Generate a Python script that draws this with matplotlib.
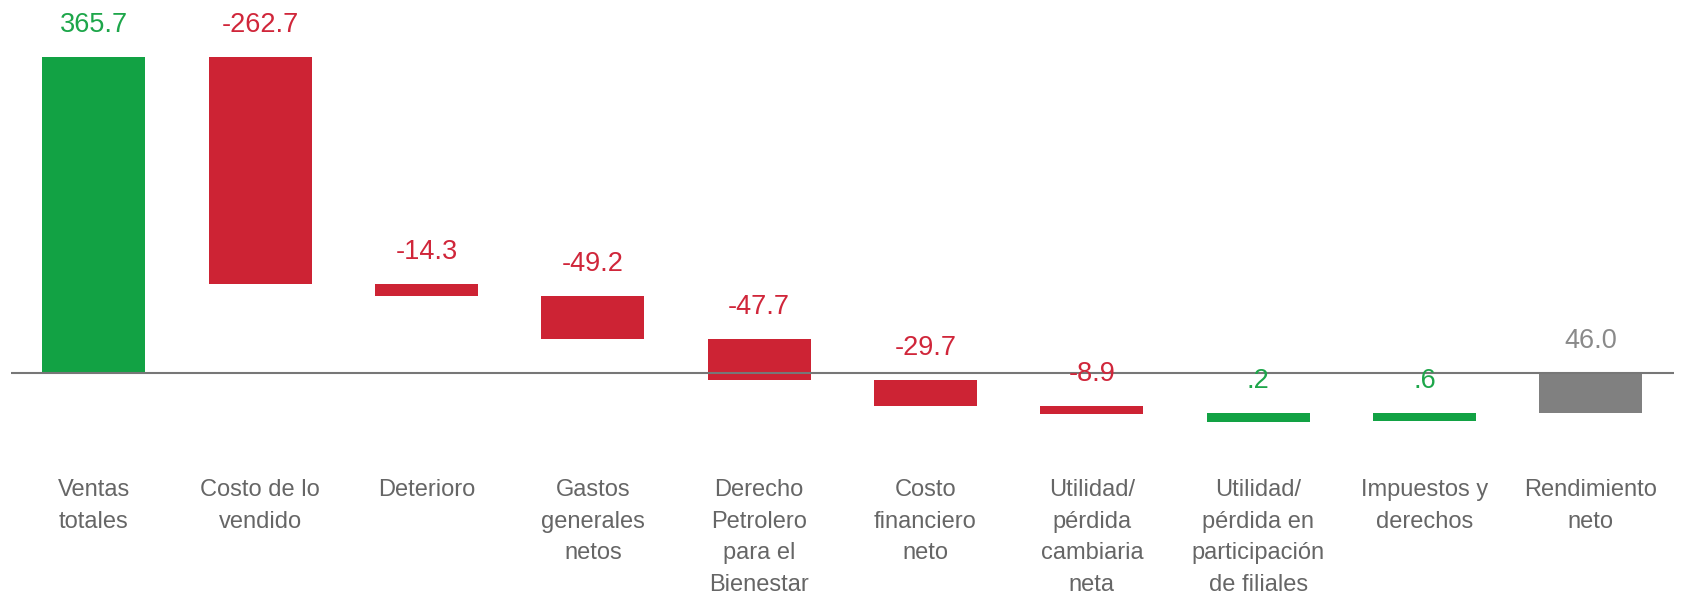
import matplotlib
matplotlib.use('Agg')
from matplotlib import pyplot as plt
import matplotlib.transforms as mtransforms
import numpy as np

plt.rcParams['font.family'] = ['Liberation Sans', 'DejaVu Sans']

categories = ['Ventas\ntotales', 'Costo de lo\nvendido', 'Deterioro',
              'Gastos\ngenerales\nnetos', 'Derecho\nPetrolero\npara el\nBienestar',
              'Costo\nfinanciero\nneto', 'Utilidad/\npérdida\ncambiaria\nneta',
              'Utilidad/\npérdida en\nparticipación\nde filiales',
              'Impuestos y\nderechos', 'Rendimiento\nneto']
changes = [365.7, -262.7, -14.3, -49.2, -47.7, -29.7, -8.9, 0.2, 0.6]
value_labels = ['365.7', '-262.7', '-14.3', '-49.2', '-47.7', '-29.7', '-8.9',
                '.2', '.6', '46.0']

green = '#12a244'
red = '#cd2334'
grey = '#808080'
min_h = 10.0

fig = plt.figure(figsize=(16.85, 5.97), dpi=100, facecolor='w')
ax = fig.add_axes([0.00635, 0.2884, 0.9871, 0.6946])

running = 0.0
tops = []
for i, c in enumerate(changes):
    start = running
    running = running + c
    top = max(start, running)
    bottom = min(start, running)
    if top - bottom < min_h:
        bottom = top - min_h
    col = green if c > 0 else red
    ax.bar(i, top - bottom, bottom=bottom, width=0.62, color=col)
    tops.append(top)

# total bar
n = len(changes)
ax.bar(n, running, bottom=0, width=0.62, color=grey)
tops.append(max(0.0, running))

label_cols = ['#1da64a' if c > 0 else '#d0263a' for c in changes] + ['#8a8a8a']
for i, t in enumerate(tops):
    ax.annotate(value_labels[i], (i, t), xytext=(0, 23), textcoords='offset points',
                ha='center', va='center', fontsize=19.5, color=label_cols[i])

ax.axhline(0, color='#777777', linewidth=1.5)

trans = mtransforms.blended_transform_factory(ax.transData, fig.transFigure)
for i, cat in enumerate(categories):
    ax.text(i, 0.197, cat, transform=trans, ha='center', va='top',
            multialignment='center', fontsize=17, color='#666666', linespacing=1.56)

ax.set_xlim(-0.5, 9.5)
ax.set_ylim(-60, 420)
ax.axis('off')

fig.savefig('out.png', dpi=100, facecolor='w')
